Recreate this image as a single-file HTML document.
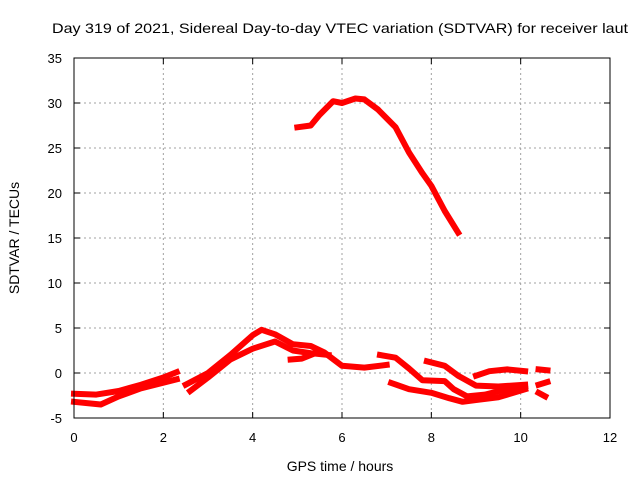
<!DOCTYPE html>
<html><head><meta charset="utf-8"><style>
body{margin:0;background:#fff}
svg{display:block;font-family:"Liberation Sans",Arial,sans-serif}
</style></head><body>
<svg id="chart" width="640" height="480">
<text x="340" y="33" text-anchor="middle" font-size="14" textLength="576" lengthAdjust="spacingAndGlyphs">Day 319 of 2021, Sidereal Day-to-day VTEC variation (SDTVAR) for receiver laut</text>
<text x="340" y="471" text-anchor="middle" font-size="14">GPS time / hours</text>
<text transform="translate(19,238) rotate(-90)" text-anchor="middle" font-size="14">SDTVAR / TECUs</text>
<g id="grid"></g><g id="series"></g><g id="axes"></g>
</svg>
<script>
const xTicks=[0,2,4,6,8,10,12];
const yTicks=[-5,0,5,10,15,20,25,30,35];
const seriesTop=[[5.0,27.3],[5.3,27.5],[5.5,28.7],[5.8,30.2],[6.0,30.0],[6.3,30.5],[6.5,30.4],[6.8,29.3],[7.2,27.3],[7.5,24.5],[7.8,22.2],[8.0,20.8],[8.3,18],[8.6,15.6]];
const seriesMorningA=[[0,-2.3],[0.5,-2.4],[1,-2.0],[1.5,-1.3],[2,-0.5],[2.3,0.1]];
const seriesMorningB=[[0,-3.2],[0.6,-3.5],[1,-2.6],[1.5,-1.7],[2.3,-0.7]];
const seriesNoonA=[[2.5,-1.3],[3,0],[3.5,2],[4,4.2],[4.2,4.8],[4.5,4.3],[4.9,3.2],[5.3,3],[5.6,2.3],[6,0.8],[6.5,0.6],[7,0.9]];
const seriesNoonB=[[2.6,-2],[3,-0.5],[3.5,1.5],[4,2.7],[4.5,3.5],[4.9,2.5],[5.3,2.2],[5.7,2.0]];
const seriesNoonC=[[4.85,1.5],[5.1,1.6],[5.4,2.2]];
const seriesEveA=[[6.85,2.0],[7.2,1.7],[7.5,0.5],[7.8,-0.8],[8.3,-0.9],[8.5,-1.8],[8.8,-2.6],[9.2,-2.4],[9.6,-1.9],[10.1,-1.5]];
const seriesEveB=[[7.1,-1.1],[7.5,-1.8],[8,-2.2],[8.4,-2.8],[8.7,-3.2],[9,-3.0],[9.5,-2.7],[10.1,-1.8]];
const seriesEveC=[[7.9,1.3],[8.3,0.8],[8.6,-0.3],[9,-1.4],[9.5,-1.5],[10.1,-1.3]];
const seriesEveD=[[9.0,-0.3],[9.3,0.2],[9.7,0.4],[10.1,0.2]];
const seriesLateA=[[10.4,0.4],[10.6,0.3]];
const seriesLateB=[[10.4,-1.3],[10.6,-1.0]];
const seriesLateC=[[10.4,-2.2],[10.55,-2.6]];
const allSeries=[seriesTop,seriesMorningA,seriesMorningB,seriesNoonA,seriesNoonB,seriesNoonC,seriesEveA,seriesEveB,seriesEveC,seriesEveD,seriesLateA,seriesLateB,seriesLateC];
const X0=74,X1=610,Y0=418,Y1=58;
const xs=v=>X0+(v-0)/12*(X1-X0);
const ys=v=>Y0-(v+5)/40*(Y0-Y1);
const NS='http://www.w3.org/2000/svg';
function mk(t,a,p){const e=document.createElementNS(NS,t);for(const k in a)e.setAttribute(k,a[k]);p.appendChild(e);return e;}
const grid=document.getElementById('grid'),axes=document.getElementById('axes'),ser=document.getElementById('series');
xTicks.forEach(t=>{const x=xs(t);
 if(t>0&&t<12){const g=mk('line',{x1:x,x2:x,y1:Y1,y2:Y0,stroke:'#a0a0a0','stroke-dasharray':'2,3'},grid);
 
 }
 const l=mk('text',{x:x,y:Y0+24,'text-anchor':'middle','font-size':13},axes);l.textContent=t;
 
 
 mk('line',{x1:x,x2:x,y1:Y0,y2:Y0-6,stroke:'#000'},axes);mk('line',{x1:x,x2:x,y1:Y1,y2:Y1+6,stroke:'#000'},axes);});
yTicks.forEach(t=>{const y=ys(t);
 if(t>-5&&t<35){const g=mk('line',{x1:X0,x2:X1,y1:y,y2:y,stroke:'#a0a0a0','stroke-dasharray':'2,3'},grid);
 
 }
 const l=mk('text',{x:X0-12,y:y+5,'text-anchor':'end','font-size':13},axes);l.textContent=t;
 
 
 mk('line',{x1:X0,x2:X0+6,y1:y,y2:y,stroke:'#000'},axes);mk('line',{x1:X1,x2:X1-6,y1:y,y2:y,stroke:'#000'},axes);});
const fr=mk('rect',{x:X0,y:Y1,width:X1-X0,height:Y0-Y1,fill:'none',stroke:'#000'},axes);


allSeries.forEach((s,i)=>{
 const p=mk('polyline',{points:s.map(d=>xs(d[0])+','+ys(d[1])).join(' '),fill:'none',stroke:'#ff0000','stroke-width':6,'stroke-linejoin':'round','stroke-linecap':'square'},ser);
 
 
});
</script>
</body></html>
